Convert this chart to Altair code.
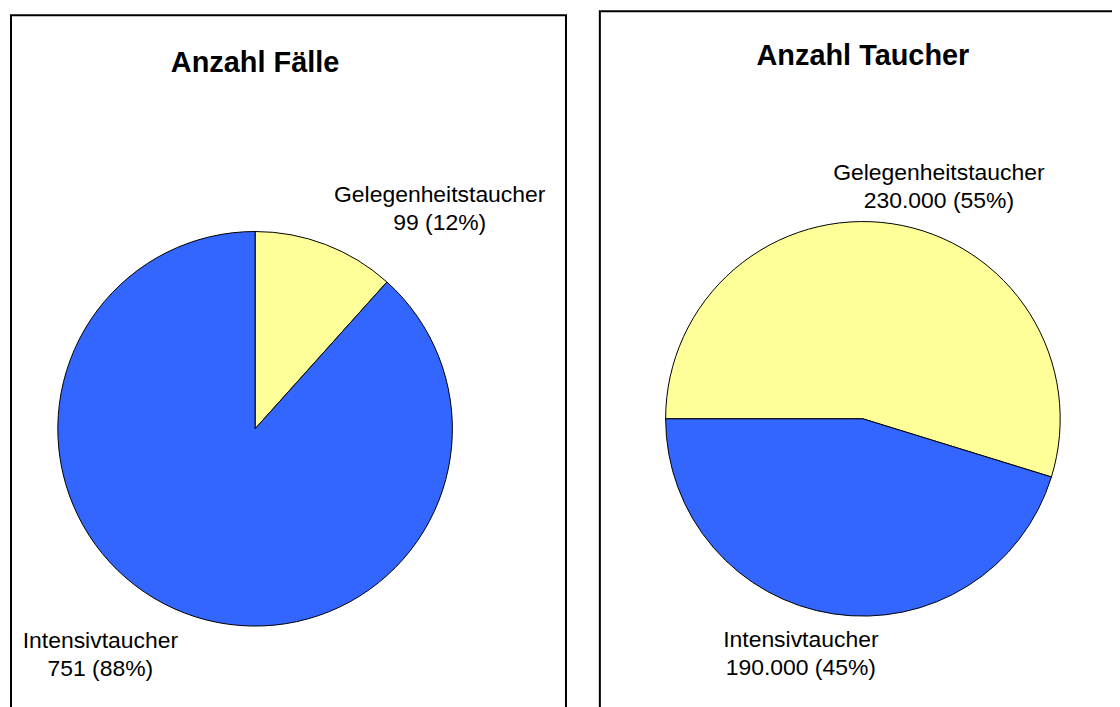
import math
import altair as alt
import pandas as pd

categories = ["Gelegenheitstaucher", "Intensivtaucher"]
faelle = [99, 751]
taucher = [230000, 190000]
titles = ["Anzahl Fälle", "Anzahl Taucher"]
colors = ["#FFFF99", "#3366FF"]

FONT = "Liberation Sans"


def fmt(v):
    return f"{v:,}".replace(",", ".")


def pie(values, title, start_deg, cx, cy, title_y, offsets, W, H):
    total = sum(values)
    df = pd.DataFrame({
        "cat": categories,
        "value": values,
        "order": list(range(len(values))),
        "label": [f"{c}\n{fmt(v)} ({round(100 * v / total)}%)" for c, v in zip(categories, values)],
    })
    start = math.radians(start_deg)
    theta_scale = alt.Scale(domain=[0, total], range=[start, start + 2 * math.pi])
    base = (
        alt.Chart(df)
        .transform_stack(stack="value", as_=["s0", "s1"], groupby=[], sort=[alt.SortField("order")])
        .transform_calculate(mid="(datum.s0 + datum.s1) / 2")
    )
    arc = base.mark_arc(radius=198, stroke="black", strokeWidth=1).encode(
        theta=alt.Theta("s0:Q", scale=theta_scale, stack=False),
        theta2="s1:Q",
        color=alt.Color("cat:N", scale=alt.Scale(domain=categories, range=colors), legend=None),
        x=alt.value(cx),
        y=alt.value(cy),
    )
    layers = [arc]
    for c, (dx, dy) in zip(categories, offsets):
        lab = base.transform_filter(alt.datum.cat == c).mark_text(
            radius=230, dx=dx, dy=dy, fontSize=23, font=FONT, lineBreak="\n",
            lineHeight=28, align="center", baseline="middle", color="black",
        ).encode(
            theta=alt.Theta("mid:Q", scale=theta_scale, stack=False),
            text="label:N",
            x=alt.value(cx),
            y=alt.value(cy),
        )
        layers.append(lab)
    ttl = alt.Chart(pd.DataFrame({"t": [title]})).mark_text(
        fontSize=29, fontWeight="bold", font=FONT, align="center", baseline="middle", color="black"
    ).encode(text="t:N", x=alt.value(cx), y=alt.value(title_y))
    layers.append(ttl)
    return alt.layer(*layers).properties(
        width=W, height=H,
        view=alt.ViewBackground(stroke="black", strokeWidth=2, fill="white"),
    )


left = pie(faelle, titles[0], 0, 245, 415, 48, [(103, -20), (-73, -2)], 557, 712)
right = pie(taucher, titles[1], 270, 264, 409, 45, [(42, -19), (-28, -5)], 530, 720)

chart = (
    alt.hconcat(left, right, spacing=32, center=True)
    .resolve_scale(theta="independent", color="independent")
    .properties(padding={"left": 2, "top": 1, "right": -17, "bottom": 0})
    .configure_view(stroke="black", strokeWidth=2)
    .configure(background="white")
)

chart.save("out.html", embed_options={"renderer": "svg", "actions": False})
